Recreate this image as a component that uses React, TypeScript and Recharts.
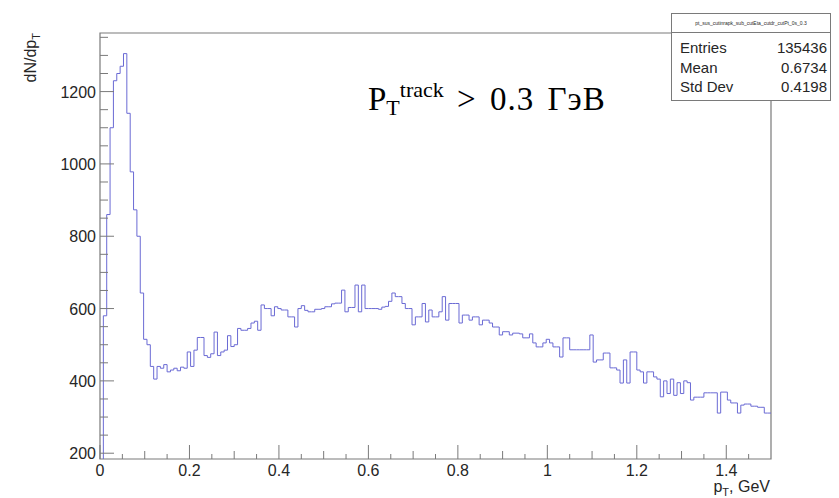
import { Line, LineChart, ReferenceArea, XAxis, YAxis } from "recharts";

// histogram of track pT, 200 bins of 0.0075 GeV from 0 to 1.5
const BIN_WIDTH = 0.0075;
const X_MAX = 1.5;
const Y_MIN = 184;
const Y_MAX = 1362;

const counts = [
  0, 580, 860, 1100, 1230, 1250, 1270, 1305, 1140, 978,
  873, 800, 643, 515, 500, 440, 405, 440, 435, 445,
  425, 430, 435, 428, 438, 435, 480, 440, 485, 520,
  520, 470, 465, 475, 535, 470, 480, 485, 525, 495,
  500, 545, 540, 540, 545, 560, 565, 540, 610, 600,
  600, 580, 605, 600, 596, 596, 577, 577, 549, 600,
  608, 595, 591, 591, 598, 598, 600, 605, 605, 613,
  615, 615, 651, 591, 603, 603, 665, 591, 665, 600,
  600, 600, 600, 598, 604, 606, 620, 643, 633, 633,
  614, 600, 600, 555, 577, 577, 614, 563, 596, 577,
  577, 591, 633, 568, 614, 614, 614, 560, 582, 582,
  568, 577, 577, 555, 568, 568, 560, 549, 549, 527,
  536, 536, 527, 532, 532, 530, 519, 519, 530, 505,
  494, 494, 505, 515, 505, 494, 494, 466, 519, 519,
  486, 486, 486, 486, 486, 486, 527, 452, 458, 458,
  477, 477, 436, 436, 430, 394, 458, 394, 480, 480,
  430, 425, 394, 425, 425, 411, 405, 356, 400, 365,
  405, 360, 395, 365, 400, 395, 347, 355, 355, 355,
  367, 367, 367, 367, 311, 369, 369, 347, 339, 339,
  311, 333, 336, 336, 330, 330, 327, 327, 311, 311,
];

const xTicks = [
  0, 0.05, 0.1, 0.15, 0.2, 0.25, 0.3, 0.35, 0.4, 0.45,
  0.5, 0.55, 0.6, 0.65, 0.7, 0.75, 0.8, 0.85, 0.9, 0.95,
  1, 1.05, 1.1, 1.15, 1.2, 1.25, 1.3, 1.35, 1.4, 1.45,
];
const xTickLabels = ["0", "0.2", "0.4", "0.6", "0.8", "1", "1.2", "1.4"];

const yTicks = [
  200, 250, 300, 350, 400, 450, 500, 550, 600, 650, 700, 750,
  800, 850, 900, 950, 1000, 1050, 1100, 1150, 1200, 1250, 1300, 1350,
];

const statsTitle = "pt_sus_cutinrapk_sub_cutEta_cutdr_cutPt_0s_0.3";
const statsRows = [
  ["Entries", "135436"],
  ["Mean", "0.6734"],
  ["Std Dev", "0.4198"],
];

const data = counts
  .map((c, i) => ({ x: i * BIN_WIDTH, y: c }))
  .concat([{ x: X_MAX, y: counts[counts.length - 1] }]);

const AXIS = "#7a7a7a";
const TEXT = "#262626";
const FONT = "'Liberation Sans', Arial, sans-serif";

function XTick(props: any) {
  const { x, y, payload } = props;
  const v = payload.value;
  const isMajor = Math.abs(v * 5 - Math.round(v * 5)) < 1e-6;
  const isMid = Math.abs(v * 10 - Math.round(v * 10)) < 1e-6;
  const len = isMajor ? 14 : isMid ? 8 : 5;
  return (
    <g>
      <line x1={x} x2={x} y1={y} y2={y - len} stroke={AXIS} />
      {isMajor && (
        <text x={x} y={y + 17} textAnchor="middle" fontSize={16} fill={TEXT} fontFamily={FONT}>
          {xTickLabels[Math.round(v * 5)]}
        </text>
      )}
    </g>
  );
}

function YTick(props: any) {
  const { x, y, payload } = props;
  const v = payload.value;
  const isMajor = v % 200 === 0;
  const ax = x + 4;
  return (
    <g>
      <line x1={ax} x2={ax + (isMajor ? 14 : 8)} y1={y} y2={y} stroke={AXIS} />
      {isMajor && (
        <text x={x} y={y + 6} textAnchor="end" fontSize={16} fill={TEXT} fontFamily={FONT}>
          {v}
        </text>
      )}
    </g>
  );
}

export default function App() {
  return (
    <div style={{ position: "absolute", left: 0, top: 0, width: 839, height: 498, background: "#fff" }}>
      <LineChart
        width={839}
        height={498}
        data={data}
        margin={{ top: 33, right: 68, left: 60, bottom: 9 }}
      >
        <XAxis
          type="number"
          dataKey="x"
          domain={[0, X_MAX]}
          ticks={xTicks}
          interval={0}
          allowDataOverflow
          height={30}
          axisLine={false}
          tickLine={false}
          tickSize={0}
          tickMargin={0}
          tick={<XTick />}
        />
        <YAxis
          type="number"
          domain={[Y_MIN, Y_MAX]}
          ticks={yTicks}
          interval={0}
          allowDataOverflow
          width={40}
          axisLine={false}
          tickLine={false}
          tickSize={0}
          tickMargin={4}
          tick={<YTick />}
        />
        <ReferenceArea
          x1={0}
          x2={X_MAX}
          y1={Y_MIN}
          y2={Y_MAX}
          fill="none"
          stroke={AXIS}
          strokeWidth={1.2}
        />
        <Line
          dataKey="y"
          type="stepAfter"
          stroke="#6a6ad4"
          strokeWidth={1}
          dot={false}
          isAnimationActive={false}
        />
      </LineChart>

      <svg width={839} height={498} style={{ position: "absolute", left: 0, top: 0, pointerEvents: "none" }}>
        <text
          transform="translate(36, 33) rotate(-90)"
          textAnchor="end"
          fontSize={16}
          fill={TEXT}
          fontFamily={FONT}
        >
          dN/dp<tspan fontSize={11} dy={4}>T</tspan>
        </text>
        <text x={770} y={492} textAnchor="end" fontSize={16} fill={TEXT} fontFamily={FONT}>
          p<tspan fontSize={11} dy={4}>T</tspan>
          <tspan dy={-4}>, GeV</tspan>
        </text>
        <text x={368} y={110} fontSize={33} fill="#000" fontFamily="'Liberation Serif', 'Times New Roman', serif">
          P<tspan fontSize={22} dy={5}>T</tspan>
          <tspan fontSize={22} dy={-18}>track</tspan>
          <tspan dy={13} wordSpacing={4} letterSpacing={1}> &gt; 0.3 ГэВ</tspan>
        </text>
      </svg>

      <div
        style={{
          position: "absolute",
          left: 671,
          top: 13,
          width: 160,
          height: 88,
          background: "#fff",
          border: `1px solid ${AXIS}`,
          fontFamily: FONT,
          color: TEXT,
          boxSizing: "border-box",
        }}
      >
        <div
          style={{
            height: 18,
            borderBottom: `1px solid ${AXIS}`,
            fontSize: 5,
            lineHeight: "18px",
            textAlign: "center",
            whiteSpace: "nowrap",
            overflow: "hidden",
          }}
        >
          {statsTitle}
        </div>
        <div style={{ paddingTop: 5 }}>
          {statsRows.map(([k, v]) => (
            <div
              key={k}
              style={{
                display: "flex",
                justifyContent: "space-between",
                padding: "0 3px 0 8px",
                height: 19.5,
                lineHeight: "19.5px",
                fontSize: 15,
              }}
            >
              <span>{k}</span>
              <span>{v}</span>
            </div>
          ))}
        </div>
      </div>
    </div>
  );
}
